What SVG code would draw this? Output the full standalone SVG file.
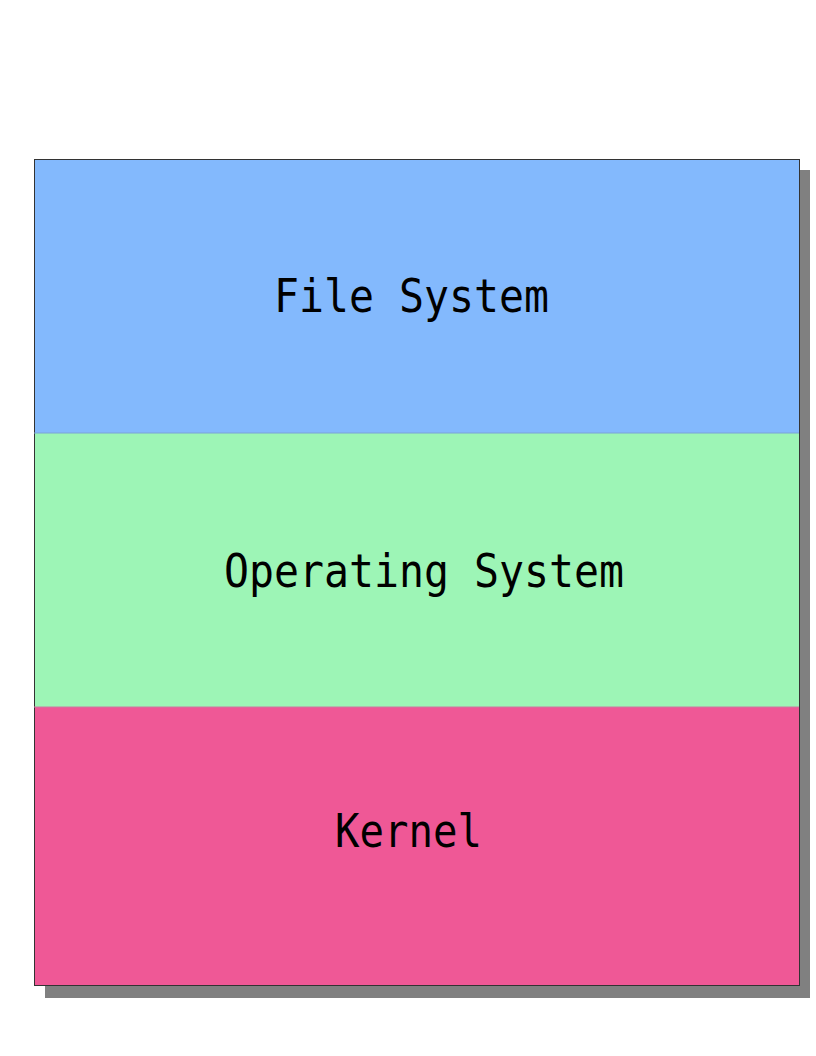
<svg xmlns="http://www.w3.org/2000/svg" width="816" height="1056" viewBox="0 0 816 1056">
  <style>
    .lbl { font-family: "DejaVu Sans Mono", "Liberation Mono", monospace; font-size: 46px; fill: #000; }
    .layer { stroke: none; }
  </style>
  <rect width="816" height="1056" fill="#ffffff"/>
  <g id="shadow">
    <rect x="45" y="170" width="765" height="828" fill="#808080"/>
  </g>
  <g id="file-system">
    <rect class="layer" x="34" y="159" width="765" height="274" fill="#83b9fd"/>
    <text class="lbl" x="274" y="312" textLength="275" lengthAdjust="spacingAndGlyphs">File System</text>
  </g>
  <g id="operating-system">
    <rect class="layer" x="34" y="433" width="765" height="274" fill="#9df5b6"/>
    <text class="lbl" x="224" y="587" textLength="400" lengthAdjust="spacingAndGlyphs">Operating System</text>
  </g>
  <g id="kernel">
    <rect class="layer" x="34" y="707" width="765" height="278" fill="#ef5896"/>
    <text class="lbl" x="335" y="847" textLength="147" lengthAdjust="spacingAndGlyphs">Kernel</text>
  </g>
  <g id="connectors">
    <rect x="34.5" y="159.5" width="765" height="826" fill="none" stroke="#333333" stroke-width="1"/>
    <line x1="34" y1="433" x2="799" y2="433" stroke="#7aa3d6" stroke-width="1"/>
    <line x1="34" y1="707" x2="799" y2="707" stroke="#c97aa0" stroke-width="1"/>
  </g>
</svg>
